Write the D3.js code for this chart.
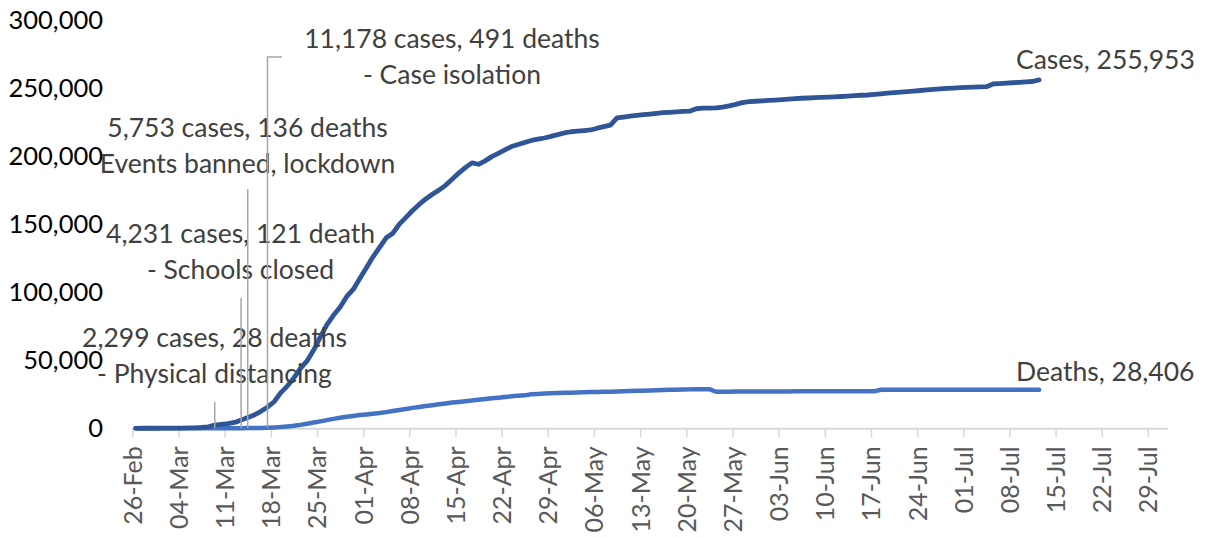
<!DOCTYPE html>
<html><head><meta charset="utf-8">
<script src="https://cdn.jsdelivr.net/npm/d3@7"></script>
<style>
body{margin:0;background:#fff}
svg{display:block;background:#fff}
text{font-family:Lato,"Liberation Sans",sans-serif}
</style>
</head><body>
<svg id="chart" width="1206" height="537"></svg>
<script>
// ---------- DATA ----------
const startDate = "2020-02-26";
const axisEndDate = "2020-08-01";
const cases = [
  15,23,32,45,73,114,150,200,260,370,
  600,1100,2299,2900,3400,4300,6000,8000,9800,12500,
  15500,19500,26000,31000,37000,44000,49500,57500,67000,76000,
  83000,89000,96700,102000,110000,118000,126000,133000,140000,143300,
  150000,155000,160000,164500,168500,172000,175000,178500,183000,187500,
  191500,195000,194000,196500,199600,202000,204500,207000,208500,210000,
  211500,212500,213300,214500,215800,217000,217900,218300,218800,219200,
  220500,221600,222700,228000,228700,229300,229900,230400,230900,231400,
  231900,232200,232500,232800,233000,234800,235200,235300,235400,236000,
  236900,238000,239300,240000,240300,240600,240900,241200,241500,241800,
  242200,242500,242700,242900,243100,243300,243500,243800,244100,244400,
  244700,244900,245300,245800,246200,246600,247000,247400,247800,248200,
  248700,249100,249400,249700,250000,250300,250500,250700,250900,251000,
  253000,253300,253600,253900,254200,254500,254800,255953
];
const deaths = [
  0,0,0,0,0,0,1,2,3,5,
  10,17,28,35,54,84,121,136,200,300,
  491,650,900,1300,1800,2500,3300,4200,5100,6000,
  6900,7700,8500,9100,9700,10200,10700,11200,11900,12700,
  13400,14200,15000,15700,16400,17000,17700,18300,18900,19400,
  19900,20500,21000,21500,22000,22500,23000,23500,24000,24200,
  25000,25250,25500,25700,25900,26050,26200,26350,26500,26600,
  26700,26800,26900,27050,27200,27350,27500,27650,27800,27950,
  28100,28250,28400,28500,28600,28650,28700,28750,26834,26837,
  26837,27117,27118,27119,27121,27125,27127,27127,27127,27128,
  27133,27133,27134,27135,27136,27136,27136,27136,27136,27136,
  27136,27136,27136,28313,28315,28322,28324,28325,28327,28330,
  28338,28341,28343,28346,28355,28355,28363,28364,28368,28385,
  28385,28388,28392,28396,28401,28403,28403,28406
];
const seriesNames = ["Cases","Deaths"];
const yTicks = [0,50000,100000,150000,200000,250000,300000];
const xTickLabels = ["26-Feb","04-Mar","11-Mar","18-Mar","25-Mar","01-Apr","08-Apr","15-Apr","22-Apr","29-Apr",
  "06-May","13-May","20-May","27-May","03-Jun","10-Jun","17-Jun","24-Jun","01-Jul","08-Jul","15-Jul","22-Jul","29-Jul"];
const annotationDates = ["2020-03-09","2020-03-13","2020-03-14","2020-03-17"];
const annotationTexts = [
  ["2,299 cases, 28 deaths","- Physical distancing"],
  ["4,231 cases, 121 death","- Schools closed"],
  ["5,753 cases, 136 deaths","Events banned, lockdown"],
  ["11,178 cases, 491 deaths","- Case isolation"]
];

// ---------- LAYOUT / STYLE ----------
const W = 1206, H = 537;
const plot = {left: 132.3, right: 1167.7, top: 20, bottom: 428.3};
const colors = {cases: "#2F5597", deaths: "#4472C4", axis: "#D9D9D9", leader: "#A6A6A6",
  label: "#404040", ytext: "#000000", xtext: "#595959"};
const fontSizes = {ann: 26.5, y: 25.5, x: 25};
// label placement: centre x, first baseline, leader top, optional elbow end
const annLayout = [
  {cx: 214.5, y: 346.7, top: 402},
  {cx: 240.5, y: 243.3, top: 298},
  {cx: 247.5, y: 136.7, top: 189},
  {cx: 452, y: 48, top: 57, elbow: 282}
];
const lineGap = 36;

const parseISO = d3.utcParse("%Y-%m-%d");
const parseTick = s => d3.utcParse("%d-%b-%Y")(s + "-2020");
const start = parseISO(startDate);
const dates = cases.map((_, i) => d3.utcDay.offset(start, i));
const mid = d => d3.utcHour.offset(d, 12);

const x = d3.scaleUtc().domain([start, parseISO(axisEndDate)]).range([plot.left, plot.right]);
const y = d3.scaleLinear().domain([0, 300000]).range([plot.bottom, plot.top]);

const svg = d3.select("#chart");
svg.append("rect").attr("width", W).attr("height", H).attr("fill", "#fff");

// x axis
const xAxis = d3.axisBottom(x)
  .tickValues(xTickLabels.map(parseTick))
  .tickSize(9).tickSizeOuter(0)
  .tickFormat(d3.utcFormat("%d-%b"));
const gx = svg.append("g").attr("transform", `translate(0,${plot.bottom})`).call(xAxis);
gx.select(".domain").attr("stroke", colors.axis).attr("stroke-width", 2);
gx.selectAll(".tick line").attr("stroke", colors.axis).attr("stroke-width", 1.5);
gx.selectAll(".tick text")
  .attr("fill", colors.xtext).attr("font-size", fontSizes.x)
  .attr("text-anchor", "end")
  .attr("transform", "translate(0,18) rotate(-90)")
  .attr("x", 0).attr("y", 0).attr("dy", "0.36em");

// y axis labels (no axis line)
const yAxis = d3.axisLeft(y).tickValues(yTicks).tickSize(0).tickPadding(0).tickFormat(d3.format(","));
const gy = svg.append("g").attr("transform", `translate(103,0)`).call(yAxis);
gy.select(".domain").remove();
gy.selectAll(".tick text").attr("fill", colors.ytext).attr("font-size", fontSizes.y).attr("font-family", "Lato");

// lines
const line = d3.line().x((d, i) => x(mid(dates[i]))).y(d => y(d));
svg.append("path").datum(deaths).attr("d", line)
  .attr("fill", "none").attr("stroke", colors.deaths).attr("stroke-width", 4.5)
  .attr("stroke-linejoin", "round").attr("stroke-linecap", "round");
svg.append("path").datum(cases).attr("d", line)
  .attr("fill", "none").attr("stroke", colors.cases).attr("stroke-width", 4.8)
  .attr("stroke-linejoin", "round").attr("stroke-linecap", "round");

// annotations
annotationDates.forEach((ds, k) => {
  const d = parseISO(ds);
  const idx = d3.utcDay.count(start, d);
  const lx = x(mid(d));
  const L = annLayout[k];
  const by = y(deaths[idx]);
  let pts = [[lx, by], [lx, L.top]];
  if (L.elbow) pts.push([L.elbow, L.top]);
  svg.append("path").attr("d", d3.line()(pts))
    .attr("fill", "none").attr("stroke", colors.leader).attr("stroke-width", 1.5);
  const t = svg.append("text").attr("text-anchor", "middle").attr("fill", colors.label).attr("font-size", fontSizes.ann);
  annotationTexts[k].forEach((s, j) => {
    t.append("tspan").attr("x", L.cx).attr("y", L.y + j * lineGap).text(s);
  });
});

// series end labels
const lastI = cases.length - 1;
const fmt = d3.format(",");
const endLabels = [
  {name: seriesNames[0], v: cases[lastI], yb: 69},
  {name: seriesNames[1], v: deaths[lastI], yb: 381}
];
endLabels.forEach(e => {
  svg.append("text").attr("x", 1016).attr("y", e.yb)
    .attr("fill", colors.label).attr("font-size", fontSizes.ann)
    .text(`${e.name}, ${fmt(e.v)}`);
});
</script>
</body></html>
